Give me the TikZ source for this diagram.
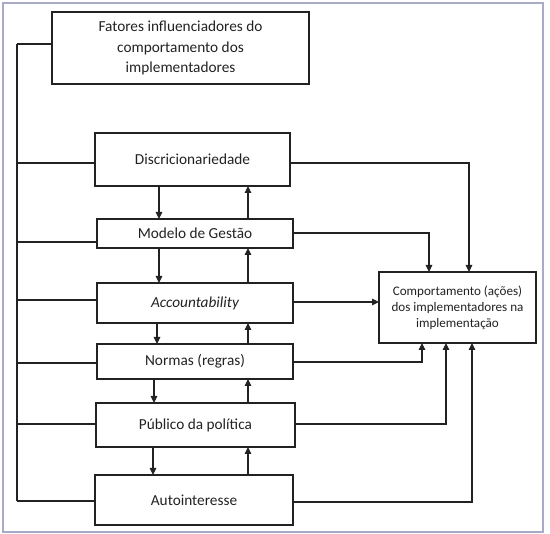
\documentclass[tikz,border=0pt]{standalone}
\usepackage{fontspec}
\setmainfont{Carlito}
\usetikzlibrary{arrows.meta}
\definecolor{framec}{HTML}{A8AAC6}
\definecolor{ink}{HTML}{222222}
\begin{document}
\begin{tikzpicture}[x=1pt,y=-1pt,
  box/.style={draw=ink,line width=1.2pt,anchor=north west,inner sep=0pt,outer sep=0pt,
    align=center,text=ink,font=\fontsize{15.3}{20.5}\selectfont},
  cbox/.style={box,font=\fontsize{13.1}{16}\selectfont},
  ln/.style={draw=ink,line width=1.2pt},
  arr/.style={ln,-{Triangle[length=7pt,width=6.5pt]}}]
\useasboundingbox (0,0) rectangle (550,534);
\draw[framec,line width=2pt] (3,3) rectangle (543,532);

\node[box,minimum width=257pt,minimum height=72pt] (top) at (52,12)
  {Fatores influenciadores do\\comportamento dos\\implementadores};
\node[box,minimum width=195pt,minimum height=53pt] (disc) at (95,133) {Discricionariedade};
\node[box,minimum width=196pt,minimum height=29pt] (mod) at (97,219) {Modelo de Gestão};
\node[box,minimum width=196pt,minimum height=40pt] (acc) at (97,283) {\itshape Accountability};
\node[box,minimum width=196pt,minimum height=35pt] (norm) at (97,344) {Normas (regras)};
\node[box,minimum width=199pt,minimum height=44pt] (pub) at (96,403) {Público da política};
\node[box,minimum width=198pt,minimum height=50pt] (auto) at (95,475) {Autointeresse};
\node[cbox,minimum width=157pt,minimum height=71pt] (comp) at (379,272)
  {Comportamento (ações)\\dos implementadores na\\implementação};

% left trunk
\coordinate (tt) at (17,44);
\coordinate (tb) at (17,501);
\draw[ln] (tt) -- (tb);
\draw[ln] (top.west |- 0,44) -- (tt);
\draw[ln] (disc.west |- 0,163) -- (tt |- 0,163);
\draw[ln] (mod.west |- 0,242) -- (tt |- 0,242);
\draw[ln] (acc.west |- 0,300) -- (tt |- 0,300);
\draw[ln] (norm.west |- 0,363) -- (tt |- 0,363);
\draw[ln] (pub.west |- 0,424) -- (tt |- 0,424);
\draw[ln] (auto.west |- 0,501) -- (tb);

% down arrows
\draw[arr] (disc.south -| 159,0) -- (mod.north -| 159,0);
\draw[arr] (mod.south -| 159,0) -- (acc.north -| 159,0);
\draw[arr] (acc.south -| 157,0) -- (norm.north -| 157,0);
\draw[arr] (norm.south -| 154,0) -- (pub.north -| 154,0);
\draw[arr] (pub.south -| 153,0) -- (auto.north -| 153,0);
% up arrows
\draw[arr] (mod.north -| 248,0) -- (disc.south -| 248,0);
\draw[arr] (acc.north -| 248,0) -- (mod.south -| 248,0);
\draw[arr] (norm.north -| 248,0) -- (acc.south -| 248,0);
\draw[arr] (pub.north -| 248,0) -- (norm.south -| 248,0);
\draw[arr] (auto.north -| 248,0) -- (pub.south -| 248,0);

% to comportamento
\draw[arr] (disc.east |- 0,163) -| (comp.north -| 469,0);
\draw[arr] (mod.east |- 0,233) -| (comp.north -| 429,0);
\draw[arr] (acc.east |- 0,302) -- (comp.west |- 0,302);
\draw[arr] (norm.east |- 0,362) -| (comp.south -| 422,0);
\draw[arr] (pub.east |- 0,424) -| (comp.south -| 446,0);
\draw[arr] (auto.east |- 0,502) -| (comp.south -| 472,0);
\end{tikzpicture}
\end{document}
